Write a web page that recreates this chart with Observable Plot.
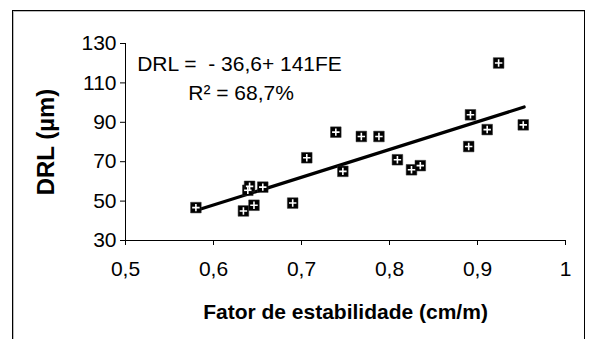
<!DOCTYPE html>
<html>
<head>
<meta charset="utf-8">
<script src="https://cdn.jsdelivr.net/npm/d3@7"></script>
<script src="https://cdn.jsdelivr.net/npm/@observablehq/plot@0.6"></script>
<style>
  html, body { margin: 0; padding: 0; background: #fff; }
  #wrap { position: relative; width: 592px; height: 339px; overflow: hidden; }
  #frame { position: absolute; left: 12px; top: 10px; width: 573px; height: 360px;
           border: 1.5px solid #000; box-shadow: inset 1px 1px 0 #bbb; box-sizing: border-box; }
  #chart { position: absolute; left: 0; top: 0; }
  svg text { white-space: pre; }
</style>
</head>
<body>
<div id="wrap"><div id="frame"></div><div id="chart"></div></div>
<script>
// Data
const fe  = [0.580, 0.634, 0.646, 0.639, 0.641, 0.656, 0.690, 0.706, 0.739, 0.747, 0.768, 0.788, 0.809, 0.825, 0.835, 0.890, 0.892, 0.911, 0.924, 0.952];
const drl = [46.7, 45.0, 47.9, 55.5, 57.5, 57.1, 49.0, 72.0, 85.0, 65.1, 82.8, 82.8, 71.0, 65.9, 68.0, 77.7, 93.8, 86.3, 120.1, 88.7];
const xTicks = [0.5, 0.6, 0.7, 0.8, 0.9, 1];
const yTicks = [30, 50, 70, 90, 110, 130];
const eqIntercept = -36.6, eqSlope = 141;
const fitRange = [0.58, 0.953];
const eqLabel = "DRL =  - 36,6+ 141FE";
const r2Label = "R² = 68,7%";
const annX = [0.5133, 0.5713];
const annY = [119.3, 104.5];

const points = fe.map((x, i) => ({x, y: drl[i]}));
const fit = fitRange.map(x => ({x, y: eqIntercept + eqSlope * x}));
const ann = [
  {x: annX[0], y: annY[0], t: eqLabel},
  {x: annX[1], y: annY[1], t: r2Label}
];
const fmt = d => String(d).replace(".", ",");

const plusSymbol = {
  draw(ctx, size) {
    const s = Math.sqrt(size / Math.PI) * 0.62;
    ctx.moveTo(-s, 0); ctx.lineTo(s, 0);
    ctx.moveTo(0, -s); ctx.lineTo(0, s);
  }
};

const chart = Plot.plot({
  width: 592,
  height: 339,
  marginLeft: 125,
  marginRight: 27,
  marginTop: 43,
  marginBottom: 99,
  style: {fontFamily: "'Liberation Sans', Arial, sans-serif", fontSize: "21px", color: "#000", background: "transparent", overflow: "visible"},
  x: {domain: [0.5, 1], label: null},
  y: {domain: [30, 130], label: null},
  marks: [
    Plot.axisX({ticks: xTicks, tickFormat: fmt, tickSize: 5, tickPadding: 16, fontSize: 21}),
    Plot.axisY({ticks: yTicks, tickSize: 5, tickPadding: 4, fontSize: 21}),
    Plot.ruleY([30], {stroke: "#000"}),
    Plot.ruleX([0.5], {stroke: "#000"}),
    Plot.line(fit, {x: "x", y: "y", stroke: "#000", strokeWidth: 3.2}),
    Plot.dot(points, {x: "x", y: "y", symbol: "square", r: 6, fill: "#000", stroke: "#333", strokeWidth: 0.5}),
    Plot.dot(points, {x: "x", y: "y", symbol: plusSymbol, r: 6, stroke: "#fff", strokeWidth: 1.6, fill: "none"}),
    Plot.text(ann, {x: "x", y: "y", text: "t", textAnchor: "start", fontSize: 21, fill: "#000", style: {letterSpacing: "0.3px"}}),
    Plot.text(["Fator de estabilidade (cm/m)"], {frameAnchor: "bottom", textAnchor: "middle", lineAnchor: "middle", dy: 72, fontWeight: "bold", fontSize: 21, fill: "#000"}),
    Plot.text(["DRL (µm)"], {frameAnchor: "left", textAnchor: "middle", lineAnchor: "middle", dx: -79, rotate: -90, fontWeight: "bold", fontSize: 24, fill: "#000"})
  ]
});
document.getElementById("chart").appendChild(chart);
</script>
</body>
</html>
